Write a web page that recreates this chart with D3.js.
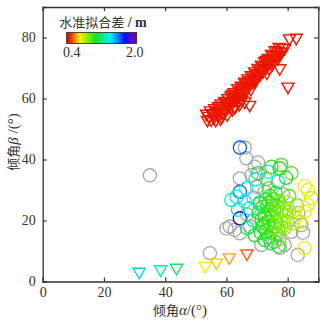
<!DOCTYPE html>
<html>
<head>
<meta charset="utf-8">
<script src="https://cdn.jsdelivr.net/npm/d3@7"></script>
<style>
  body { margin: 0; background: #fff; }
  svg { display: block; }
</style>
</head>
<body>
<div id="chart"></div>
<script>
// ---- data ----
const xTicks = [0, 20, 40, 60, 80];
const yTicks = [0, 20, 40, 60, 80];

// triangles: alpha, beta, fitting error (m)
const triAlpha = [53.5,54.2,54.8,55.3,55.9,56.2,56.7,57.1,57.4,57.9,58.3,58.6,59.0,59.4,59.8,60.1,60.5,60.8,61.2,61.5,61.9,62.3,62.6,63.0,63.4,63.7,64.1,64.5,64.8,65.2,65.6,65.9,66.3,66.7,67.0,67.4,67.8,68.1,68.5,68.9,69.2,69.6,70.0,70.3,70.7,71.1,71.4,71.8,72.2,72.5,72.9,73.3,73.6,74.0,74.4,74.7,75.1,75.5,75.9,76.3,76.8,77.2,77.7,78.3,60.3,62.8,65.0,58.0,
  55.0,56.0,57.0,58.0,59.0,60.0,61.0,62.0,63.0,64.0,65.0,66.0,67.0,68.0,69.0,70.0,71.0,72.0,73.0,74.0,75.0,76.0,77.0,78.0,79.0,62.0,64.2,58.5,53.8,56.5,
  80.6,82.8,77.4,80.1,67.6,69.2,76.8,73.2,66.0,
  31.5,38.5,43.7,53.1,56.7,60.9,66.7];
const triBeta = [55.0,54.3,56.1,55.2,53.8,56.8,55.6,54.6,57.5,56.2,58.4,55.3,57.1,59.0,56.4,58.0,60.1,57.3,59.2,61.0,58.5,60.4,62.1,59.6,61.5,63.4,60.8,62.6,64.2,62.0,63.8,65.5,63.1,64.9,66.6,64.3,66.0,67.6,65.4,67.2,68.9,66.5,68.3,70.0,67.8,69.5,71.1,69.0,70.6,72.2,70.1,71.8,73.3,71.5,73.0,74.6,72.6,74.2,75.8,74.0,75.5,76.9,75.2,76.6,54.8,57.2,59.5,53.5,
  53.2,55.0,56.2,57.6,55.4,59.2,58.0,61.6,61.0,59.2,63.0,61.8,65.0,63.2,66.0,66.8,68.0,69.0,72.6,70.0,71.3,73.0,74.2,75.3,76.5,56.5,58.2,54.0,53.0,53.0,
  79.7,79.9,69.9,63.9,57.9,65.5,73.2,68.5,59.0,
  3.2,4.0,4.5,5.1,6.2,7.9,9.2];
const triErr = [0.45,0.46,0.44,0.45,0.47,0.45,0.44,0.46,0.45,0.45,0.44,0.46,0.45,0.45,0.47,0.44,0.45,0.46,0.45,0.44,0.45,0.46,0.45,0.44,0.45,0.45,0.46,0.44,0.45,0.45,0.46,0.45,0.44,0.45,0.46,0.45,0.44,0.45,0.46,0.45,0.45,0.44,0.45,0.46,0.45,0.44,0.45,0.46,0.45,0.45,0.44,0.45,0.46,0.45,0.44,0.45,0.45,0.46,0.45,0.44,0.45,0.46,0.45,0.45,0.46,0.45,0.44,0.45,
  0.45,0.44,0.46,0.45,0.45,0.44,0.46,0.45,0.45,0.44,0.45,0.46,0.45,0.45,0.44,0.45,0.46,0.45,0.45,0.44,0.45,0.45,0.46,0.45,0.45,0.44,0.45,0.46,0.45,0.45,
  0.45,0.45,0.46,0.45,0.46,0.45,0.45,0.46,0.45,
  1.45,1.3,1.15,0.7,0.66,0.62,0.55];

// circles: alpha, beta, fitting error (null = grey, outside colour range)
const circAlpha = [35.0,54.6,66.0,66.5,69.2,64.4,68.2,61.1,64.4,67.6,60.0,62.7,83.3,81.2,79.0,75.7,71.4,70.0,72.5,78.5,83.5,84.5,80.0,76.5,68.8,66.7,73.0,85.0,77.5,70.3,
  64.4,64.4,64.4,
  63.3,61.6,66.0,67.6,73.6,76.8,63.8,66.5,69.5,68.8,71.0,
  70.3,74.7,77.4,77.9,81.2,79.5,72.5,69.2,66.8,73.8,76.0,83.0,80.5,77.0,74.5,
  85.5,86.6,85.5,86.6,87.7,85.5,84.0,82.5,
  72.0,73.5,75.0,76.5,74.0,71.5,77.5,78.5,75.5,73.0,76.0,79.0,72.8,74.2,77.0,79.5,70.5,71.8,74.8,76.2,73.2,78.0,75.5,72.5,77.8,74.0,76.8,70.8,73.8,78.8,80.5,75.2,71.2,79.8,81.5,74.5,76.5,72.3,77.2,73.6];
const circBeta = [34.8,9.3,43.9,40.4,37.6,33.8,34.9,18.0,15.8,18.0,17.4,16.9,8.7,16.3,12.0,13.0,12.0,31.0,29.5,28.5,22.5,18.5,19.5,15.5,27.5,22.0,33.5,16.0,11.0,39.0,
  43.9,29.4,20.7,
  27.8,26.7,26.2,24.0,36.0,32.7,23.5,30.5,33.5,20.0,26.0,
  35.5,37.6,37.1,38.2,35.5,34.0,13.6,15.2,17.5,30.5,29.0,25.0,28.0,11.5,16.0,
  31.3,30.0,22.9,25.1,27.3,10.9,19.5,21.0,
  24.5,22.0,25.0,22.5,19.5,20.5,20.0,24.0,18.0,16.5,15.5,17.5,27.0,28.0,26.5,21.5,22.5,18.0,21.5,19.8,24.8,17.8,23.8,21.2,22.8,25.8,17.0,25.5,14.5,19.5,23.0,27.0,16.0,26.0,19.0,12.5,24.5,19.0,14.0,18.2];
const circErr = [null,null,null,null,null,null,null,null,null,null,null,null,null,null,null,null,null,null,null,null,null,null,null,null,null,null,null,null,null,null,
  1.62,1.6,1.75,
  1.38,1.35,1.4,1.32,1.36,1.35,1.3,1.4,1.3,1.28,1.3,
  1.1,1.0,1.05,1.0,0.95,1.05,1.1,1.05,1.15,1.0,1.05,0.9,0.95,1.1,1.0,
  0.7,0.72,0.72,0.7,0.78,0.7,0.78,0.8,
  1.0,0.95,1.05,0.9,1.0,1.05,0.92,0.88,0.95,1.02,0.9,0.85,1.1,1.0,0.92,0.85,1.08,1.05,0.98,0.93,1.0,0.88,0.95,1.02,0.9,1.0,0.92,1.1,1.05,0.82,0.85,0.97,1.08,0.83,0.8,1.1,0.94,1.0,0.9,0.97];

// colour map stops
const cmapVals = [0.4, 0.48, 0.6, 0.7, 0.86, 1.05, 1.25, 1.4, 1.55, 1.72, 1.88, 2.0];
const cmapCols = ["#d00000","#ff2400","#ff9000","#f8f000","#90f000","#20e020","#00f0a0","#00f0f0","#0090ff","#0010f0","#6000e0","#800090"];

// ---- chart ----
const W = 335, H = 324;
const x = d3.scaleLinear().domain([0, 90]).range([42.7, 318.3]);
const y = d3.scaleLinear().domain([0, 90]).range([281.5, 7]);
const color = d3.scaleLinear().domain(cmapVals).range(cmapCols).clamp(true);

const svg = d3.select("#chart").append("svg")
  .attr("width", W)
  .attr("height", H);

const circles = circAlpha.map((a, i) => ({ a, b: circBeta[i], e: circErr[i] }));
const tris = triAlpha.map((a, i) => ({ a, b: triBeta[i], e: triErr[i] }));

// grey circles underneath, coloured on top
svg.append("g")
  .selectAll("circle")
  .data(circles.filter(d => d.e === null).concat(circles.filter(d => d.e !== null)))
  .join("circle")
  .attr("cx", d => x(d.a))
  .attr("cy", d => y(d.b))
  .attr("r", 6.6)
  .attr("fill", "none")
  .attr("stroke", d => d.e === null ? "#a8a8a8" : color(d.e))
  .attr("stroke-width", 1.3);

const tri = d3.symbol().type(d3.symbolTriangle).size(64);
svg.append("g")
  .selectAll("path")
  .data(tris)
  .join("path")
  .attr("d", tri)
  .attr("transform", d => `translate(${x(d.a)},${y(d.b)}) rotate(180)`)
  .attr("fill", "none")
  .attr("stroke", d => color(d.e))
  .attr("stroke-width", 1.4);

// frame with inward ticks on all four sides
const axisCol = "#333";
const frame = svg.append("g");
frame.append("g")
  .attr("transform", `translate(0,${y(0)})`)
  .call(d3.axisBottom(x).tickValues(xTicks).tickSize(-4).tickPadding(6).tickFormat(d3.format("d")));
frame.append("g")
  .attr("transform", `translate(0,${y(90)})`)
  .call(d3.axisTop(x).tickValues(xTicks).tickSize(-4).tickFormat(""));
frame.append("g")
  .attr("transform", `translate(${x(0)},0)`)
  .call(d3.axisLeft(y).tickValues(yTicks).tickSize(-4).tickPadding(7).tickFormat(d3.format("d")));
frame.append("g")
  .attr("transform", `translate(${x(90)},0)`)
  .call(d3.axisRight(y).tickValues(yTicks).tickSize(-4).tickFormat(""));

frame.selectAll(".domain").attr("stroke", axisCol).attr("stroke-width", 1.3);
frame.selectAll(".tick line").attr("stroke", axisCol).attr("stroke-width", 1.2);
frame.selectAll(".tick text")
  .attr("fill", "#333")
  .style("font-family", "'Liberation Serif', 'Times New Roman', serif")
  .style("font-size", "14px");

// axis titles
const cjk = "'Noto Sans CJK SC', sans-serif";
const xt = svg.append("text")
  .attr("x", 180)
  .attr("y", 315)
  .attr("text-anchor", "middle")
  .attr("fill", "#333")
  .style("font-family", cjk)
  .style("font-size", "13px");
xt.append("tspan").text("倾角");
xt.append("tspan").style("font-family", "'Liberation Serif', serif").style("font-style", "italic").style("font-size", "15px").text("α");
xt.append("tspan").style("font-family", "'Liberation Serif', serif").style("font-size", "15px").text("/(°)");

const yt = svg.append("text")
  .attr("transform", "translate(18,142) rotate(-90)")
  .attr("text-anchor", "middle")
  .attr("fill", "#333")
  .style("font-family", cjk)
  .style("font-size", "13px");
yt.append("tspan").text("倾角");
yt.append("tspan").style("font-family", "'Liberation Serif', serif").style("font-style", "italic").style("font-size", "15px").text("β");
yt.append("tspan").style("font-family", "'Liberation Serif', serif").style("font-size", "15px").text(" /(°)");

// colour bar legend
const cbX = d3.scaleLinear().domain([0.4, 2.0]).range([66.7, 136.7]);
const grad = svg.append("defs").append("linearGradient").attr("id", "cbar");
grad.selectAll("stop")
  .data(cmapVals)
  .join("stop")
  .attr("offset", d => (d - 0.4) / 1.6)
  .attr("stop-color", (d, i) => cmapCols[i]);

svg.append("rect")
  .attr("x", cbX(0.4))
  .attr("y", 32.5)
  .attr("width", cbX(2.0) - cbX(0.4))
  .attr("height", 11)
  .attr("fill", "url(#cbar)")
  .attr("stroke", "#222")
  .attr("stroke-width", 0.8);

const lt = svg.append("text")
  .attr("x", 103)
  .attr("y", 27)
  .attr("text-anchor", "middle")
  .attr("fill", "#333")
  .style("font-family", cjk)
  .style("font-size", "13px");
lt.append("tspan").text("水准拟合差");
lt.append("tspan").style("font-family", "'Liberation Serif', serif").style("font-size", "14px").style("font-weight", "bold").text(" / m");

svg.selectAll(".cbl")
  .data([0.4, 2.0])
  .join("text")
  .attr("x", d => cbX(d) + (d === 0.4 ? 5 : -2))
  .attr("y", 57)
  .attr("text-anchor", "middle")
  .attr("fill", "#333")
  .style("font-family", "'Liberation Serif', serif")
  .style("font-size", "14px")
  .text(d => d3.format(".1f")(d));
</script>
</body>
</html>
